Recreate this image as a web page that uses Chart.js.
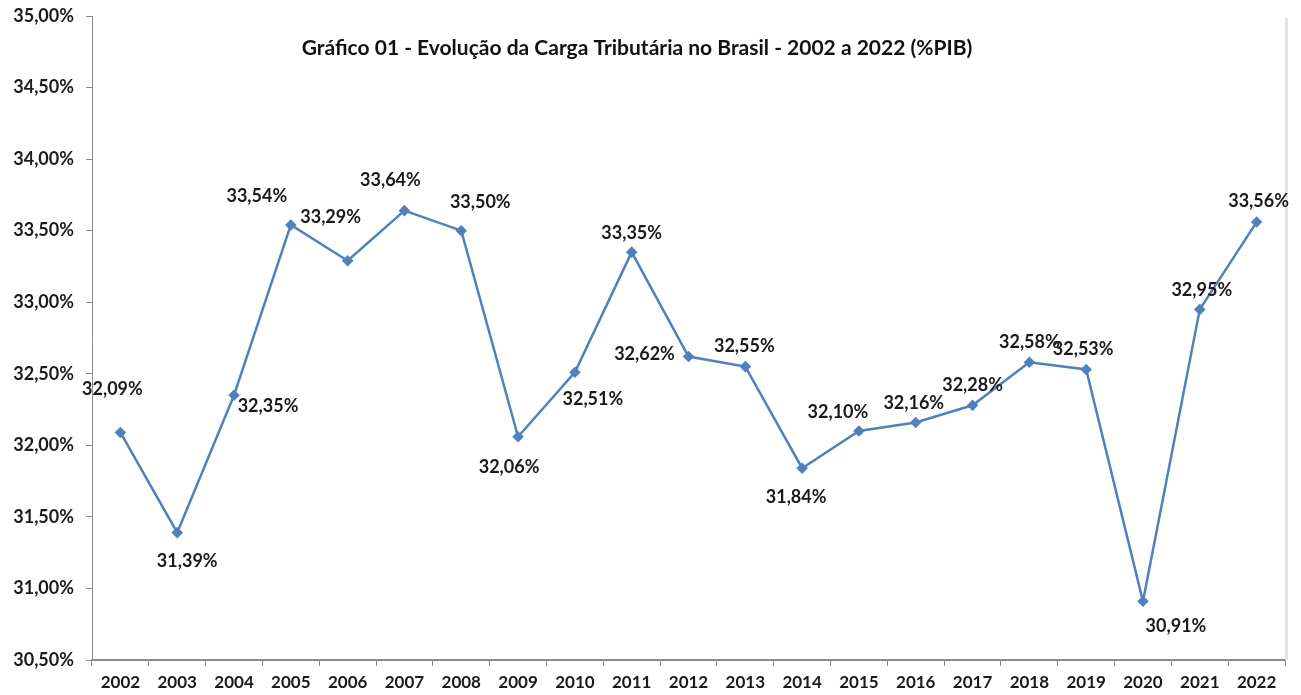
<!DOCTYPE html>
<html>
<head>
<meta charset="utf-8">
<script src="https://cdn.jsdelivr.net/npm/chart.js@4.4.0/dist/chart.umd.min.js"></script>
<style>
  html, body { margin: 0; padding: 0; background: #ffffff; }
  #wrap { width: 1301px; height: 695px; position: relative; }
</style>
</head>
<body>
<div id="wrap"><canvas id="c" width="1301" height="695"></canvas></div>
<script>
const categories = ['2002','2003','2004','2005','2006','2007','2008','2009','2010','2011','2012','2013','2014','2015','2016','2017','2018','2019','2020','2021','2022'];
const cargaTributaria = [32.09, 31.39, 32.35, 33.54, 33.29, 33.64, 33.50, 32.06, 32.51, 33.35, 32.62, 32.55, 31.84, 32.10, 32.16, 32.28, 32.58, 32.53, 30.91, 32.95, 33.56];
const yTicks = [30.5, 31.0, 31.5, 32.0, 32.5, 33.0, 33.5, 34.0, 34.5, 35.0];
const titleText = 'Gráfico 01 - Evolução da Carga Tributária no Brasil - 2002 a 2022 (%PIB)';

// label placement relative to each point (pixels, style only)
const labelOffsets = [[-8,-43],[10,29],[34,11],[-34,-29],[-17,-44],[-14,-30],[19,-28],[-9,30],[18,27],[0,-19],[-44,-2],[-1,-20],[-6,29],[-21,-19],[-2,-19],[0,-20],[0,-20],[-3,-20],[33,25],[2,-19],[2,-21]];

const fmt = v => v.toFixed(2).replace('.', ',') + '%';
const FONT = 'Lato, "DejaVu Sans", sans-serif';

const extras = {
  id: 'extras',
  beforeDatasetsDraw(chart) {
    const ctx = chart.ctx, a = chart.chartArea;
    ctx.save();
    ctx.strokeStyle = '#e3e3e3';
    ctx.lineWidth = 3;
    ctx.beginPath();
    ctx.moveTo(a.right + 1.5, a.top + 2);
    ctx.lineTo(a.right + 1.5, a.bottom);
    ctx.stroke();
    ctx.restore();
  },
  afterDatasetsDraw(chart) {
    const ctx = chart.ctx;
    const meta = chart.getDatasetMeta(0);
    ctx.save();
    ctx.fillStyle = '#1a1a1a';
    ctx.font = 'bold 18px ' + FONT;
    ctx.textAlign = 'center';
    ctx.textBaseline = 'middle';
    meta.data.forEach((pt, i) => {
      const o = labelOffsets[i];
      ctx.fillText(fmt(cargaTributaria[i]), pt.x + o[0], pt.y + o[1]);
    });
    ctx.font = 'bold 21px ' + FONT;
    ctx.fillStyle = '#111111';
    ctx.fillText(titleText, 637, 48);
    ctx.restore();
  }
};

new Chart(document.getElementById('c'), {
  type: 'line',
  data: {
    labels: categories,
    datasets: [{
      data: cargaTributaria,
      borderColor: '#4f81bd',
      backgroundColor: '#4f81bd',
      borderWidth: 2.5,
      pointStyle: 'rectRot',
      pointRadius: 4,
      pointHoverRadius: 4,
      tension: 0,
      fill: false
    }]
  },
  options: {
    responsive: false,
    animation: false,
    devicePixelRatio: 1,
    layout: { padding: { left: 0, right: 16, top: 16, bottom: 0 } },
    plugins: { legend: { display: false }, tooltip: { enabled: false }, title: { display: false } },
    scales: {
      x: {
        type: 'category',
        offset: true,
        grid: { display: true, offset: true, drawOnChartArea: false, drawTicks: true, tickLength: 6, color: '#8c8c8c', lineWidth: 1 },
        border: { display: true, color: '#8c8c8c', width: 2 },
        ticks: { color: '#1a1a1a', font: { family: FONT, weight: 'bold', size: 17 }, padding: 6, maxRotation: 0, autoSkip: false },
        afterFit(s) { s.height = 35; s.paddingLeft = 0; s.paddingRight = 0; }
      },
      y: {
        min: 30.5,
        max: 35.0,
        afterBuildTicks(s) { s.ticks = yTicks.map(v => ({ value: v })); },
        grid: { display: true, drawOnChartArea: false, drawTicks: true, tickLength: 6, color: '#8c8c8c' },
        border: { display: true, color: '#8c8c8c', width: 1 },
        ticks: { color: '#1a1a1a', font: { family: FONT, weight: 'bold', size: 18 }, padding: 12, callback: v => fmt(v) },
        afterFit(s) { s.width = 92; s.paddingTop = 0; s.paddingBottom = 0; }
      }
    }
  },
  plugins: [extras]
});
</script>
</body>
</html>
